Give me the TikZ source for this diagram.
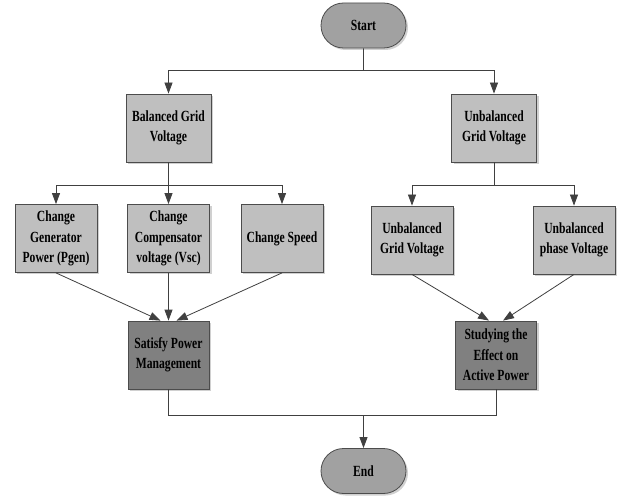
\documentclass[tikz,border=0pt]{standalone}
\usepackage{fontspec}
\newfontfamily\cf[FakeStretch=0.75]{Liberation Serif}
\usetikzlibrary{shapes.misc,arrows.meta,shadows}
\begin{document}
\begin{tikzpicture}[x=1pt,y=-1pt,
  base/.style={draw=black!70, line width=0.8pt, align=center, inner sep=1pt,
    font=\cf\bfseries\fontsize{15.5}{20.5}\selectfont,
    drop shadow={shadow xshift=2pt, shadow yshift=-2pt, fill=black!30, opacity=0.6}},
  box/.style={base, fill=black!25, minimum width=82pt, minimum height=68pt},
  dbox/.style={base, fill=black!50, minimum width=81pt, minimum height=68pt},
  term/.style={base, rounded rectangle, fill=black!37, minimum width=87pt, minimum height=45pt},
  conn/.style={draw=black!75, line width=0.8pt},
  arr/.style={conn, -{Triangle[length=11pt,width=8pt]}}]
\useasboundingbox (0,0) rectangle (624,497);
\fill[white] (0,0) rectangle (624,497);

\node[term] (start) at (363.5,25.5) {Start};
\node[box, minimum width=85pt] (bal) at (168.5,128) {Balanced Grid\\Voltage};
\node[box, minimum width=85pt] (unb) at (494,128) {Unbalanced\\Grid Voltage};

\node[box] (gen) at (56,238.5) {Change\\Generator\\Power (Pgen)};
\node[box] (comp) at (168.5,238.5) {Change\\Compensator\\voltage (Vsc)};
\node[box] (speed) at (282,238.5) {Change Speed};
\node[box] (ug) at (412,240) {Unbalanced\\Grid Voltage};
\node[box] (ph) at (574,240) {Unbalanced\\phase Voltage};

\node[dbox] (sat) at (168.5,355) {Satisfy Power\\Management};
\node[dbox] (stud) at (496,355) {Studying the\\Effect on\\Active Power};

\node[term] (end) at (363.5,471) {End};

\coordinate (j1) at (363.5,70);
\coordinate (j2) at (168.5,185);
\coordinate (j3) at (494,185);
\coordinate (j4) at (363.5,415);

\draw[conn] (start) -- (j1);
\draw[arr] (j1) -| (bal);
\draw[arr] (j1) -| (unb);

\draw[conn] (bal) -- (j2);
\draw[arr] (j2) -| (gen);
\draw[arr] (j2) -- (comp);
\draw[arr] (j2) -| (speed);

\draw[conn] (unb) -- (j3);
\draw[arr] (j3) -| (ug);
\draw[arr] (j3) -| (ph);

\draw[arr] (gen.south) -- ([xshift=-8pt]sat.north);
\draw[arr] (comp.south) -- (sat.north);
\draw[arr] (speed.south) -- ([xshift=8pt]sat.north);

\draw[arr] (ug.south) -- ([xshift=-7pt]stud.north);
\draw[arr] (ph.south) -- ([xshift=7pt]stud.north);

\draw[conn] (sat.south) |- (j4);
\draw[conn] (stud.south) |- (j4);
\draw[arr] (j4) -- (end);
\end{tikzpicture}
\end{document}
